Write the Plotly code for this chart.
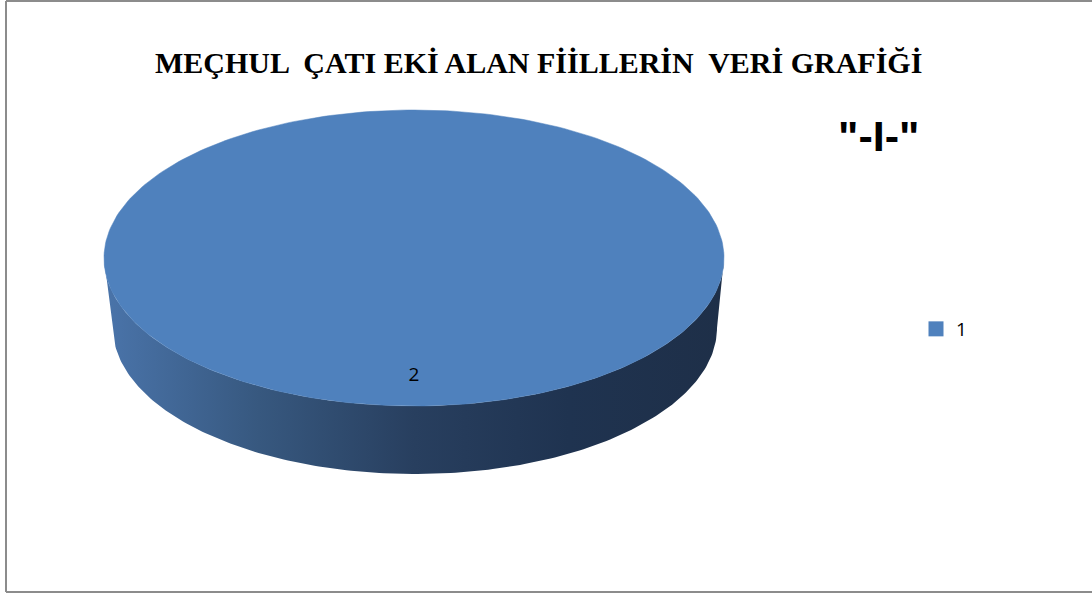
import numpy as np
import plotly.graph_objects as go

# ---- data ----
categories = ["1"]
values = [2]
title_text = "MEÇHUL  ÇATI EKİ ALAN FİİLLERİN  VERİ GRAFİĞİ"
subtitle_text = '"-I-"'
slice_colors = ["#4f81bd"]

# ---- layout geometry (pixel coordinate system) ----
W, H = 1092, 596
CX, CY, RX, RY = 414, 258, 310, 148      # top face ellipse
CXB, CYB, RXB, RYB = 415, 328, 302, 146  # bottom rim ellipse
LABEL_R = 0.8

fig = go.Figure()

# side of the pie (front half), with horizontal gradient
t = np.linspace(0, np.pi, 200)
sx = np.concatenate([CX + RX * np.cos(t), (CXB + RXB * np.cos(t))[::-1]])
sy = np.concatenate([CY + RY * np.sin(t), (CYB + RYB * np.sin(t))[::-1]])
fig.add_trace(go.Scatter(
    x=sx, y=sy, mode="lines", fill="toself", line=dict(width=0, color="rgba(0,0,0,0)"),
    fillgradient=dict(type="horizontal", start=CX + RX, stop=CX - RX,
                      colorscale=[[0, "#1e2f48"], [0.25, "#1f3350"], [0.5, "#283f5f"],
                                  [0.75, "#37587f"], [1, "#4a74aa"]]),
    showlegend=False, hoverinfo="skip"))

# top face slices, computed from values
total = float(sum(values))
start = -np.pi / 2
for cat, val, col in zip(categories, values, slice_colors):
    span = 2 * np.pi * val / total
    ang = np.linspace(start, start + span, 300)
    if span < 2 * np.pi - 1e-9:
        px = np.concatenate([[CX], CX + RX * np.cos(ang), [CX]])
        py = np.concatenate([[CY], CY + RY * np.sin(ang), [CY]])
    else:
        px = CX + RX * np.cos(ang)
        py = CY + RY * np.sin(ang)
    fig.add_trace(go.Scatter(x=px, y=py, mode="lines", fill="toself", fillcolor=col,
                             line=dict(width=0.5, color=col), showlegend=False, hoverinfo="skip"))
    mid = start + span / 2
    fig.add_trace(go.Scatter(x=[CX + LABEL_R * RX * np.cos(mid)], y=[CY + LABEL_R * RY * np.sin(mid)],
                             mode="text", text=[str(val)],
                             textfont=dict(family="Open Sans, Liberation Sans", size=19, color="#000000"),
                             showlegend=False, hoverinfo="skip"))
    # legend entry
    fig.add_trace(go.Scatter(x=[None], y=[None], mode="markers", name=cat,
                             marker=dict(symbol="square", size=15, color=col)))
    start += span

border = dict(color="#8c8c8c", width=2)
fig.update_layout(
    width=W, height=H,
    margin=dict(l=0, r=0, t=0, b=0),
    paper_bgcolor="white", plot_bgcolor="white",
    xaxis=dict(range=[0, W], visible=False, fixedrange=True),
    yaxis=dict(range=[H, 0], visible=False, fixedrange=True),
    showlegend=True,
    legend=dict(x=916 / W, y=1 - 329 / H, xanchor="left", yanchor="middle",
                font=dict(family="Open Sans, Liberation Sans", size=19, color="#000000"),
                bgcolor="rgba(0,0,0,0)", itemwidth=30, tracegroupgap=0),
    shapes=[
        dict(type="line", xref="x", yref="y", x0=6, y0=1, x1=W, y1=1, line=border),
        dict(type="line", xref="x", yref="y", x0=6, y0=592, x1=W, y1=592, line=border),
        dict(type="line", xref="x", yref="y", x0=6, y0=1, x1=6, y1=592, line=border),
    ],
    annotations=[
        dict(text="<b>" + title_text + "</b>", x=538 / W, y=1 - 62 / H, xref="paper", yref="paper",
             showarrow=False, xanchor="center", yanchor="middle",
             font=dict(family="Liberation Serif", size=30, color="#000000")),
        dict(text="<b>" + subtitle_text + "</b>", x=878 / W, y=1 - 136 / H, xref="paper", yref="paper",
             showarrow=False, xanchor="center", yanchor="middle",
             font=dict(family="Liberation Sans", size=43, color="#000000")),
    ],
)

fig.write_html("out.html")
